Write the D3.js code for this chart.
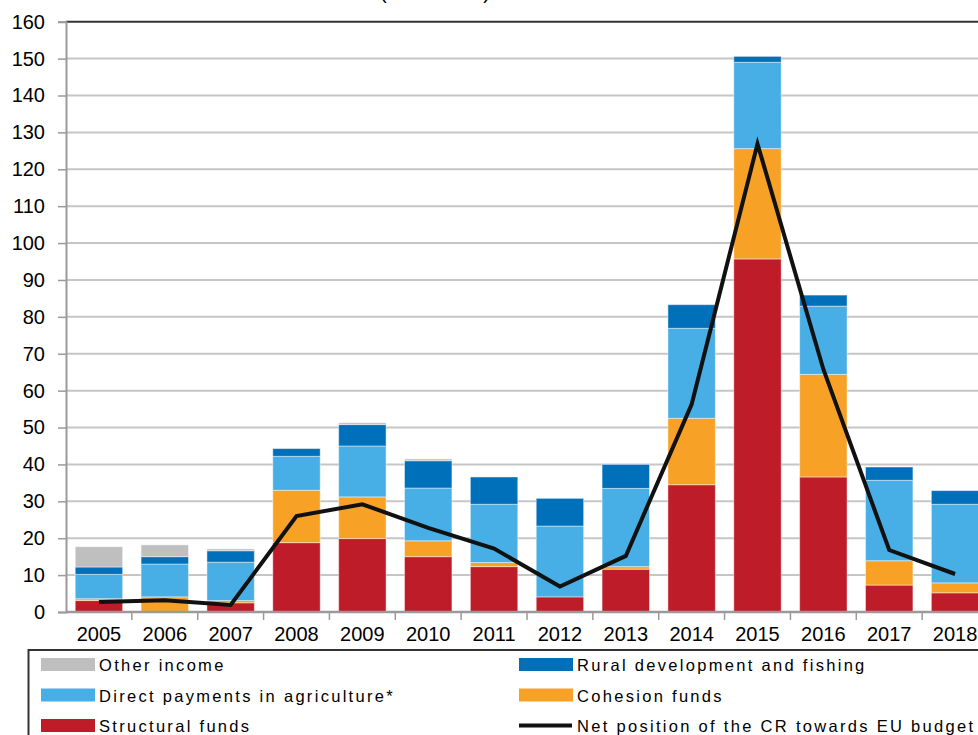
<!DOCTYPE html>
<html>
<head>
<meta charset="utf-8">
<script src="https://cdn.jsdelivr.net/npm/d3@7"></script>
<style>
  html, body { margin: 0; padding: 0; background: #fff; overflow: hidden; }
  svg { display: block; font-family: Arial, "Liberation Sans", sans-serif; }
</style>
</head>
<body>
<svg id="chart" width="978" height="735"></svg>
<script>
const years = ["2005","2006","2007","2008","2009","2010","2011","2012","2013","2014","2015","2016","2017","2018"];
const structuralFunds = [3.1, 0, 2.5, 18.8, 19.9, 15.0, 12.3, 4.1, 11.6, 34.5, 95.7, 36.6, 7.3, 5.2];
const cohesionFunds   = [0.5, 4.1, 0.6, 14.2, 11.3, 4.3, 1.1, 0, 0.7, 18.0, 29.9, 27.8, 6.6, 2.7];
const directPayments  = [6.6, 8.9, 10.4, 9.2, 13.8, 14.3, 15.8, 19.2, 21.2, 24.4, 23.4, 18.5, 21.8, 21.3];
const ruralDev        = [2.0, 2.0, 3.1, 2.1, 5.8, 7.4, 7.4, 7.5, 6.5, 6.4, 1.6, 3.0, 3.6, 3.7];
const otherIncome     = [5.5, 3.2, 0.5, 0, 0.5, 0.5, 0, 0, 0, 0, 0, 0, 0, 0];
const netPosition     = [2.7, 3.2, 1.9, 26.0, 29.2, 22.8, 17.2, 6.9, 15.2, 56.3, 126.9, 65.8, 16.8, 10.3];
const yTicks = [0,10,20,30,40,50,60,70,80,90,100,110,120,130,140,150,160];

const seriesKeys = ["structural","cohesion","direct","rural","other"];
const seriesNames = {
  other: "Other income",
  rural: "Rural development and fishing",
  direct: "Direct payments in agriculture*",
  cohesion: "Cohesion funds",
  structural: "Structural funds"
};
const colors = {
  structural: "#BE1C29",
  cohesion: "#F7A227",
  direct: "#47AEE6",
  rural: "#0070BA",
  other: "#BFBFBF"
};

const rows = years.map((yr, i) => ({
  year: yr,
  structural: structuralFunds[i],
  cohesion: cohesionFunds[i],
  direct: directPayments[i],
  rural: ruralDev[i],
  other: otherIncome[i],
  net: netPosition[i]
}));

const svg = d3.select("#chart");
const plotLeft = 66, plotRight = 988, plotTop = 21.7, plotBottom = 612;

const x = d3.scaleBand().domain(years).range([plotLeft, plotRight]).paddingInner(0.28).paddingOuter(0.14);
const y = d3.scaleLinear().domain([0, 160]).range([plotBottom, plotTop]);

// title (mostly cut off at top)
svg.append("text").attr("x", 435).attr("y", -1).attr("text-anchor", "middle")
  .attr("font-size", 20).attr("fill", "#000").text("(CZK billion)");

// gridlines
svg.append("g").selectAll("line").data(yTicks.filter(t => t > 0 && t < 160)).join("line")
  .attr("x1", plotLeft).attr("x2", plotRight).attr("y1", d => y(d)).attr("y2", d => y(d))
  .attr("stroke", "#C6C6C6").attr("stroke-width", 2);

// top border
svg.append("line").attr("x1", plotLeft).attr("x2", plotRight).attr("y1", y(160)).attr("y2", y(160))
  .attr("stroke", "#333").attr("stroke-width", 2);

// stacked bars
const stacked = d3.stack().keys(seriesKeys)(rows);
svg.append("g").selectAll("g").data(stacked).join("g")
  .attr("fill", d => colors[d.key])
  .selectAll("rect").data(d => d).join("rect")
  .attr("x", d => x(d.data.year))
  .attr("width", x.bandwidth())
  .attr("y", d => y(d[1]))
  .attr("height", d => Math.max(0, y(d[0]) - y(d[1])))
  .attr("stroke", "rgba(255,255,255,0.45)")
  .attr("stroke-width", d => (d[1] - d[0]) > 0 ? 1 : 0);

// y axis
const yAxis = d3.axisLeft(y).tickValues(yTicks).tickSize(8).tickPadding(13);
const gy = svg.append("g").attr("transform", `translate(${plotLeft},0)`).call(yAxis);
gy.select(".domain").attr("stroke", "#9A9A9A").attr("stroke-width", 2);
gy.selectAll(".tick line").attr("stroke", "#9A9A9A").attr("stroke-width", 1.5);
gy.selectAll(".tick text").attr("font-size", 20).attr("fill", "#000")
  .attr("font-family", "Arial, 'Liberation Sans', sans-serif");

// x axis
const gx = svg.append("g").attr("transform", `translate(0,${plotBottom})`);
gx.append("line").attr("x1", plotLeft).attr("x2", plotRight).attr("y1", 0).attr("y2", 0)
  .attr("stroke", "#9A9A9A").attr("stroke-width", 2.5);
const boundaries = years.map(yr => x(yr) - x.step() * x.paddingInner() / 2).slice(1);
gx.selectAll(".bt").data(boundaries).join("line").attr("class", "bt")
  .attr("x1", d => d).attr("x2", d => d).attr("y1", 0).attr("y2", 8)
  .attr("stroke", "#9A9A9A").attr("stroke-width", 1.5);
gx.selectAll(".yl").data(years).join("text").attr("class", "yl")
  .attr("x", d => x(d) + x.bandwidth() / 2).attr("y", 29)
  .attr("text-anchor", "middle").attr("font-size", 20).attr("fill", "#000")
  .text(d => d);

// net position line
const line = d3.line().x(d => x(d.year) + x.bandwidth() / 2).y(d => y(d.net));
svg.append("path").datum(rows).attr("d", line)
  .attr("fill", "none").attr("stroke", "#111").attr("stroke-width", 4)
  .attr("stroke-linejoin", "miter");

// legend
const lg = svg.append("g");
lg.append("rect").attr("x", 28.5).attr("y", 650).attr("width", 1000).attr("height", 120)
  .attr("fill", "#fff").attr("stroke", "#333").attr("stroke-width", 2);
const legendItems = [
  {key: "other", col: 0, row: 0},
  {key: "rural", col: 1, row: 0},
  {key: "direct", col: 0, row: 1},
  {key: "cohesion", col: 1, row: 1},
  {key: "structural", col: 0, row: 2},
  {key: "net", col: 1, row: 2}
];
const colX = [41, 519];
legendItems.forEach(it => {
  const sx = colX[it.col], sy = 658 + it.row * 30.5;
  if (it.key === "net") {
    lg.append("line").attr("x1", sx).attr("x2", sx + 53).attr("y1", sy + 6.5).attr("y2", sy + 6.5)
      .attr("stroke", "#111").attr("stroke-width", 4);
  } else {
    lg.append("rect").attr("x", sx).attr("y", sy).attr("width", 54).attr("height", 13)
      .attr("fill", colors[it.key]);
  }
  lg.append("text").attr("x", sx + 58).attr("y", sy + 13)
    .attr("font-size", 16.5).attr("letter-spacing", "2.3px").attr("fill", "#000")
    .text(it.key === "net" ? "Net position of the CR towards EU budget" : seriesNames[it.key]);
});
</script>
</body>
</html>
